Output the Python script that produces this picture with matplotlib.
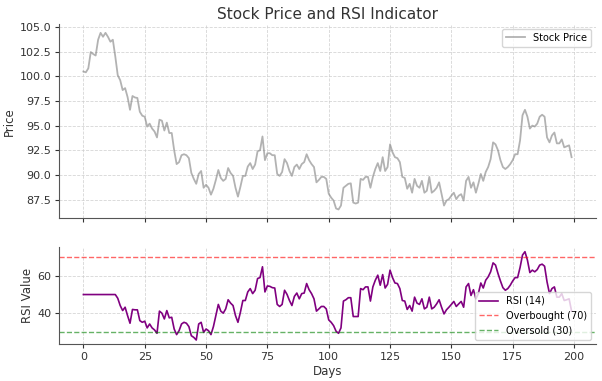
import matplotlib
matplotlib.use("Agg")
import matplotlib.pyplot as plt
import numpy as np

days = list(range(200))

price = [
    100.48, 100.4, 100.8, 102.45, 102.25, 102.1, 103.7, 104.4, 104.0, 104.4,
    104.0, 103.5, 103.7, 102.0, 100.1, 99.6, 98.6, 98.8, 97.9, 96.6,
    98.0, 97.85, 97.8, 96.4, 96.0, 95.9, 94.9, 95.2, 94.7, 94.4,
    93.8, 95.6, 95.5, 94.5, 95.3, 94.25, 94.25, 92.5, 91.1, 91.3,
    92.0, 92.1, 92.0, 91.7, 90.2, 89.6, 89.1, 90.1, 90.4, 88.7,
    89.0, 88.7, 88.0, 88.6, 89.5, 90.5, 89.7, 89.4, 89.6, 90.7,
    90.2, 89.9, 88.7, 87.8, 88.8, 89.9, 89.9, 90.85, 91.2, 90.6,
    91.05, 92.4, 92.5, 93.9, 91.5, 92.2, 92.2, 92.0, 92.0, 90.1,
    89.9, 90.3, 91.6, 91.2, 90.4, 89.9, 90.8, 91.05, 90.6, 91.1,
    91.3, 92.1, 91.5, 91.1, 90.8, 89.25, 89.5, 89.8, 89.8, 89.6,
    88.1, 87.7, 87.4, 86.6, 86.5, 86.9, 88.7, 88.9, 89.1, 89.15,
    87.2, 87.1, 87.2, 89.6, 89.5, 89.8, 89.8, 88.7, 89.8, 90.6,
    91.2, 90.4, 91.8, 90.4, 90.8, 93.1, 92.3, 91.8, 91.7, 91.3,
    89.8, 89.7, 88.6, 89.1, 88.2, 89.6, 88.9, 88.7, 89.4, 88.2,
    88.4, 89.8, 88.2, 88.4, 88.7, 89.25, 88.05, 86.9, 87.4, 87.55,
    87.9, 88.2, 87.55, 87.9, 88.05, 87.4, 89.4, 89.8, 88.7, 89.25,
    88.2, 89.1, 90.1, 89.4, 90.3, 90.8, 91.6, 93.3, 93.1, 92.5,
    91.5, 90.8, 90.6, 90.8, 91.1, 91.5, 92.1, 92.1, 93.5, 96.05,
    96.6, 95.9, 94.7, 95.0, 94.9, 95.2, 95.9, 96.1, 95.9, 93.8,
    93.3, 94.0, 94.3, 93.2, 93.2, 93.6, 92.8, 92.9, 93.0, 91.8,
]

rsi = [
    50, 50, 50, 50, 50, 50, 50, 50, 50, 50,
    50, 50, 50, 50, 48.0, 44.1, 41.4, 43.2, 38.7, 34.6,
    42.0, 41.8, 41.8, 36.0, 35.1, 35.7, 32.1, 34.2, 32.1, 31.0,
    29.2, 41.1, 40.0, 36.9, 41.4, 37.5, 37.8, 31.5, 28.5, 30.6,
    34.2, 35.1, 34.6, 32.8, 27.9, 27.0, 25.6, 34.2, 35.1, 29.7,
    31.5, 30.6, 28.5, 32.8, 38.7, 44.7, 41.1, 40.0, 42.3, 47.2,
    45.4, 44.1, 38.7, 35.1, 40.5, 46.8, 46.8, 51.4, 53.2, 50.5,
    52.3, 58.6, 59.1, 64.9, 51.4, 54.6, 54.4, 53.7, 53.5, 44.7,
    43.6, 44.7, 52.3, 50.1, 46.8, 44.1, 49.0, 50.8, 47.7, 50.5,
    50.8, 55.9, 52.6, 50.5, 47.7, 41.1, 42.3, 43.6, 43.6, 42.3,
    36.4, 35.1, 33.3, 30.3, 29.2, 32.1, 46.5, 47.2, 48.3, 48.3,
    38.2, 38.2, 38.2, 53.2, 52.6, 54.1, 54.1, 46.5, 54.1, 57.7,
    60.4, 55.0, 60.7, 53.5, 55.5, 63.1, 59.1, 56.2, 55.9, 53.2,
    46.8, 46.5, 42.0, 44.1, 41.1, 48.6, 45.4, 44.7, 47.7, 42.3,
    43.2, 48.6, 42.3, 43.2, 45.0, 47.2, 43.2, 39.6, 41.8, 43.2,
    44.7, 46.3, 43.6, 45.0, 46.3, 43.2, 54.1, 55.9, 49.5, 52.6,
    47.7, 50.5, 56.2, 53.5, 57.7, 59.5, 62.2, 67.0, 65.8, 61.3,
    57.3, 53.7, 52.3, 53.2, 55.0, 57.3, 59.1, 59.1, 64.5, 71.2,
    73.0, 68.5, 61.8, 63.1, 62.2, 63.4, 65.8, 66.3, 65.2, 56.8,
    50.5, 53.2, 54.1, 48.6, 48.6, 50.5, 46.8, 47.2, 47.7, 41.1,
]

overbought = 70
oversold = 30

plt.rcParams['font.family'] = ['DejaVu Sans']
plt.rcParams['font.size'] = 8

fig = plt.figure(figsize=(6.02, 3.81), dpi=100)
ax1 = fig.add_axes([0.098, 0.427, 0.892, 0.510])
ax2 = fig.add_axes([0.098, 0.096, 0.892, 0.255], sharex=ax1)

ax1.plot(days, price, color='gray', alpha=0.6, lw=1.3, label='Stock Price')
ax1.set_title('Stock Price and RSI Indicator', fontsize=11, color='#333333', pad=3.5)
ax1.set_ylabel('Price', color='#333333', labelpad=2.5, fontsize=8.5)
ax1.legend(loc='upper right', fontsize=7)

ax2.plot(days, rsi, color='purple', lw=1.2, label='RSI (14)')
ax2.axhline(overbought, color='red', ls='--', lw=1.0, alpha=0.6, label='Overbought (70)')
ax2.axhline(oversold, color='green', ls='--', lw=1.0, alpha=0.6, label='Oversold (30)')
ax2.set_ylabel('RSI Value', color='#333333', labelpad=2.5, fontsize=8.5)
ax2.set_xlabel('Days', color='#333333', labelpad=2, fontsize=8.5)
ax2.legend(loc='lower right', fontsize=7)

for ax in (ax1, ax2):
    ax.grid(True, ls='--', lw=0.6, color='#cccccc', alpha=0.8)
    ax.spines['top'].set_visible(False)
    ax.spines['right'].set_visible(False)
    ax.spines['left'].set_color('#555555')
    ax.spines['bottom'].set_color('#555555')
    ax.tick_params(colors='#333333', labelsize=8, direction='out', length=2.8, pad=2.8)

plt.setp(ax1.get_xticklabels(), visible=False)

fig.savefig('out.png', dpi=100)
